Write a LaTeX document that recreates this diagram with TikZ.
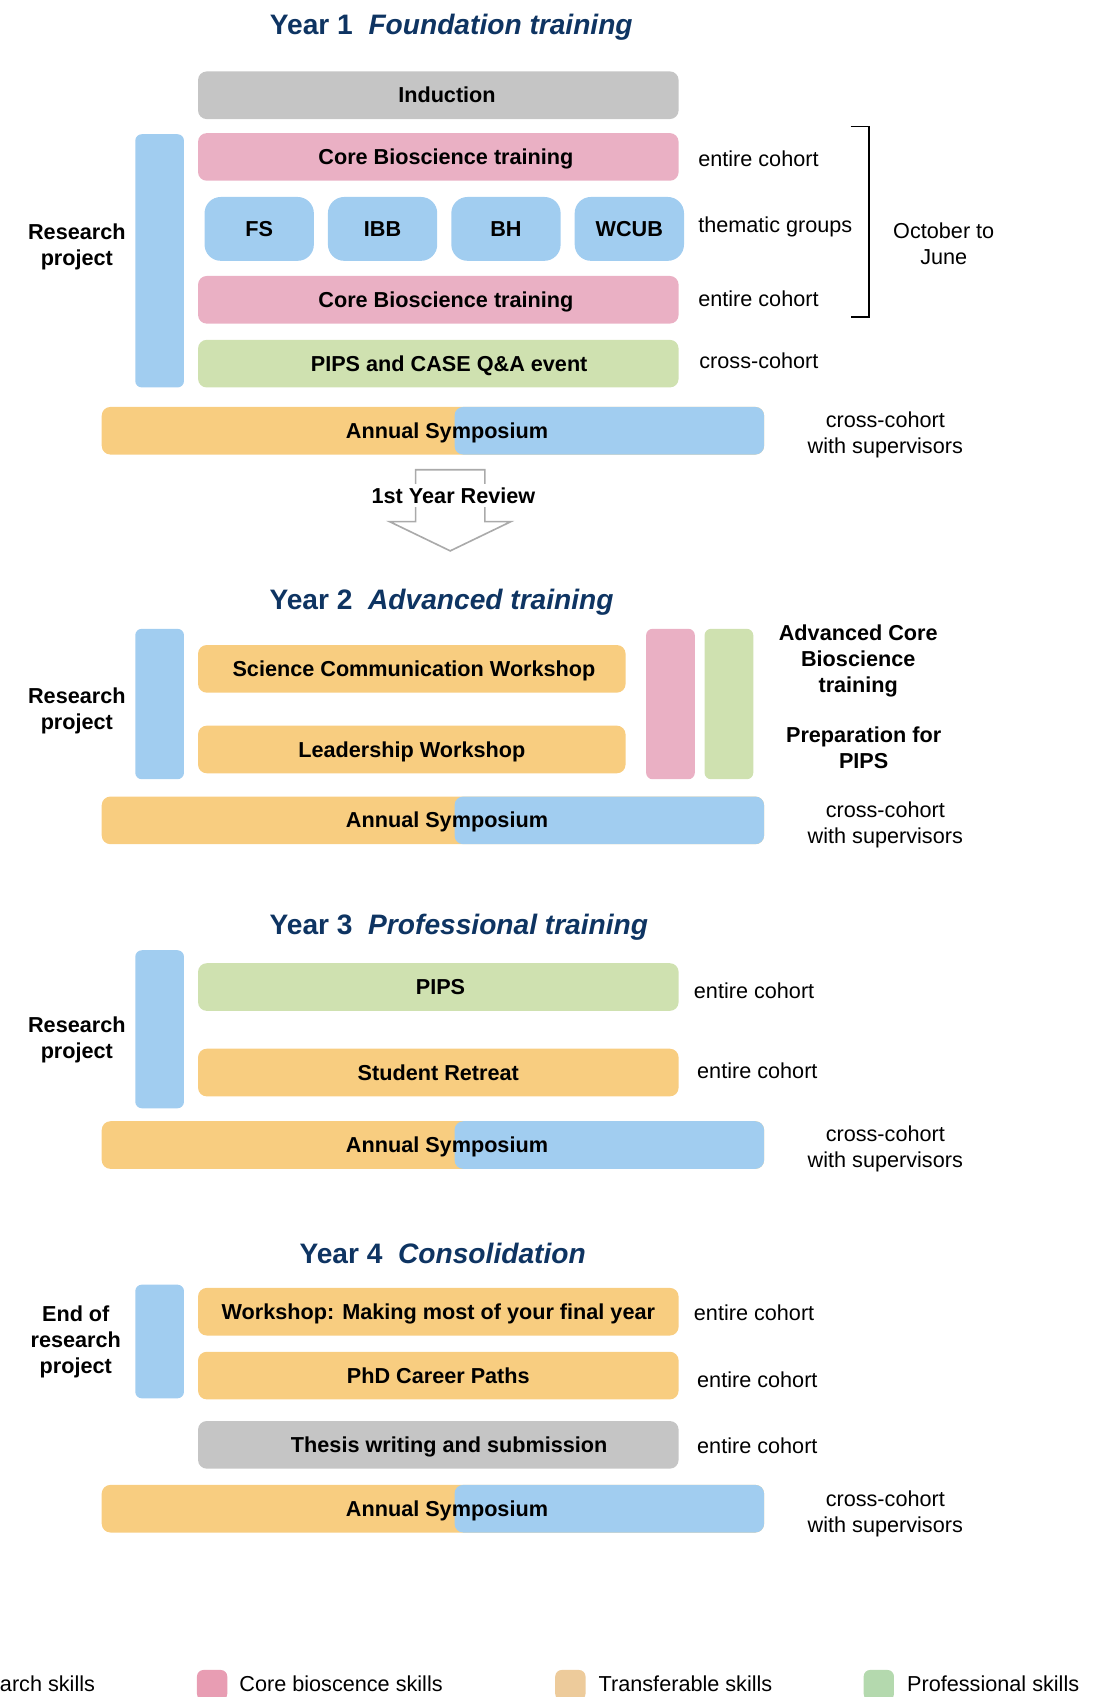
\documentclass[tikz,border=0pt]{standalone}
\usepackage{fontspec}
\setmainfont{Liberation Sans}
\definecolor{navy}{RGB}{14,52,98}
\definecolor{boxgray}{RGB}{197,197,197}
\definecolor{boxpink}{RGB}{234,176,196}
\definecolor{boxblue}{RGB}{161,205,240}
\definecolor{boxgreen}{RGB}{207,225,176}
\definecolor{boxorange}{RGB}{248,205,128}
\definecolor{keypink}{RGB}{232,157,179}
\definecolor{keyorange}{RGB}{237,203,155}
\definecolor{keygreen}{RGB}{180,217,174}
\definecolor{arrowgray}{RGB}{170,170,170}

\begin{document}
\begin{tikzpicture}
[
    x=1pt, y=-1pt,
    every node/.style={font=\fontsize{20}{24}\selectfont, inner sep=0pt},
    yeartitle/.style={font=\fontsize{26}{30}\selectfont\bfseries, text=navy, text height=19pt, text depth=0pt},
    box/.style={rounded corners=8pt, inner sep=0pt, outer sep=0pt, minimum height=44pt, text height=14pt, text depth=0pt, font=\fontsize{20}{24}\selectfont\bfseries},
    widebox/.style={box, minimum width=444pt},
    groupbox/.style={box, fill=boxblue, rounded corners=15pt, minimum width=101pt, minimum height=59pt},
    bar/.style={rounded corners=6pt, minimum width=45pt, inner sep=0pt},
    sidelabel/.style={font=\fontsize{20}{24}\selectfont\bfseries, align=center},
    note/.style={anchor=west},
    nudge/.style={execute at begin node={\hspace*{#1}}},
    keybox/.style={rounded corners=6pt, minimum width=28pt, minimum height=28pt}
]
    \useasboundingbox (0,0) rectangle (1027,1568);
    \clip (0,0) rectangle (1027,1568);

    % Year 1
    \node [yeartitle] (title1) at (417,22) {Year 1\ \ \textit{Foundation training}};
    \node [widebox, fill=boxgray, nudge=16pt] (induction) at (405,88) {Induction};
    \node [bar, fill=boxblue, minimum height=234pt] (research1) at (147.5,241) {};
    \node [sidelabel] (researchtext1) at (71,228) {Research\\project};
    \node [widebox, fill=boxpink, nudge=14pt] (core1) at (405,145) {Core Bioscience training};
    \node [groupbox] (fs) at (239.5,211.5) {FS};
    \node [groupbox] (ibb) at (353.5,211.5) {IBB};
    \node [groupbox] (bh) at (467.5,211.5) {BH};
    \node [groupbox] (wcub) at (581.5,211.5) {WCUB};
    \node [widebox, fill=boxpink, nudge=14pt] (core2) at (405,277) {Core Bioscience training};
    \node [widebox, fill=boxgreen, nudge=20pt] (pipsqa) at (405,336) {PIPS and CASE Q\&A event};
    \node [note] (cohort1) at (645,147) {entire cohort};
    \node [note] (thematic) at (645,210) {thematic groups};
    \node [note] (cohort2) at (645,276) {entire cohort};
    \node [note] (cross1) at (646,333) {cross-cohort};
    \coordinate (brtop) at (786,117);
    \coordinate (brbottom) at (786,293);
    \draw [line width=1.5pt] (brtop) -- ++(17,0) |- (brbottom);
    \node [align=center] (octjune) at (872,225) {October to\\June};

    \node [box, fill=boxorange, minimum width=612pt] (symorange1) at (400,398) {};
    \node [box, fill=boxblue, minimum width=286pt] (symblue1) at (563,398) {};
    \node [box] (sym1) at (413,398) {Annual Symposium};
    \node [align=center] (withsup1) at (818,402) {cross-cohort\\with supervisors};

    % 1st year review
    \draw [arrowgray, line width=1.5pt, line join=miter]
        (384,434) -- (448,434) -- (448,482) -- (472,482) -- (416,509)
        -- (360,482) -- (384,482) -- cycle;
    \node [fill=white, inner sep=3pt, font=\fontsize{20}{24}\selectfont\bfseries] (review) at (419,458) {1st Year Review};

    % Year 2
    \node [yeartitle] (title2) at (408,554) {Year 2\ \ \textit{Advanced training}};
    \node [bar, fill=boxblue, minimum height=139pt] (research2) at (147.5,650.5) {};
    \node [sidelabel] (researchtext2) at (71,657) {Research\\project};
    \node [box, fill=boxorange, minimum width=395pt, nudge=4pt] (scicomm) at (380.5,618) {Science Communication Workshop};
    \node [box, fill=boxorange, minimum width=395pt] (leader) at (380.5,692.5) {Leadership Workshop};
    \node [bar, fill=boxpink, minimum height=139pt] (advcore) at (619.5,650.5) {};
    \node [bar, fill=boxgreen, minimum height=139pt] (prepips) at (673.5,650.5) {};
    \node [sidelabel] (advcoretext) at (793,611) {Advanced Core\\Bioscience\\training};
    \node [sidelabel] (prepipstext) at (798,691) {Preparation for\\PIPS};

    \node [box, fill=boxorange, minimum width=612pt] (symorange2) at (400,758) {};
    \node [box, fill=boxblue, minimum width=286pt] (symblue2) at (563,758) {};
    \node [box] (sym2) at (413,758) {Annual Symposium};
    \node [align=center] (withsup2) at (818,762) {cross-cohort\\with supervisors};

    % Year 3
    \node [yeartitle] (title3) at (424,854) {Year 3\ \ \textit{Professional training}};
    \node [bar, fill=boxblue, minimum height=146pt] (research3) at (147.5,951) {};
    \node [sidelabel] (researchtext3) at (71,961) {Research\\project};
    \node [widebox, fill=boxgreen, nudge=4pt] (pips) at (405,912) {PIPS};
    \node [widebox, fill=boxorange] (retreat) at (405,991) {Student Retreat};
    \node [note] (cohort3) at (641,915) {entire cohort};
    \node [note] (cohort4) at (644,989) {entire cohort};

    \node [box, fill=boxorange, minimum width=612pt] (symorange3) at (400,1058) {};
    \node [box, fill=boxblue, minimum width=286pt] (symblue3) at (563,1058) {};
    \node [box] (sym3) at (413,1058) {Annual Symposium};
    \node [align=center] (withsup3) at (818,1062) {cross-cohort\\with supervisors};

    % Year 4
    \node [yeartitle] (title4) at (409,1158) {Year 4\ \ \textit{Consolidation}};
    \node [bar, fill=boxblue, minimum height=105pt] (research4) at (147.5,1239.5) {};
    \node [sidelabel] (researchtext4) at (70,1240) {End of\\research\\project};
    \node [widebox, fill=boxorange] (finalyear) at (405,1212) {Workshop: Making most of your final year};
    \node [widebox, fill=boxorange] (career) at (405,1271) {PhD Career Paths};
    \node [widebox, fill=boxgray, nudge=20pt] (thesis) at (405,1335) {Thesis writing and submission};
    \node [note] (cohort5) at (641,1213) {entire cohort};
    \node [note] (cohort6) at (644,1275) {entire cohort};
    \node [note] (cohort7) at (644,1336) {entire cohort};

    \node [box, fill=boxorange, minimum width=612pt] (symorange4) at (400,1394) {};
    \node [box, fill=boxblue, minimum width=286pt] (symblue4) at (563,1394) {};
    \node [box] (sym4) at (413,1394) {Annual Symposium};
    \node [align=center] (withsup4) at (818,1399) {cross-cohort\\with supervisors};

    % key
    \node [anchor=east] (keyresearch) at (88,1556) {Research skills};
    \node [keybox, fill=keypink] (keycore) at (196,1557) {};
    \node [note] (keycoretext) at (221,1556) {Core bioscence skills};
    \node [keybox, fill=keyorange] (keytransfer) at (527,1557) {};
    \node [note] (keytransfertext) at (553,1556) {Transferable skills};
    \node [keybox, fill=keygreen] (keyprof) at (812,1557) {};
    \node [note] (keyproftext) at (838,1556) {Professional skills};
\end{tikzpicture}
\end{document}
